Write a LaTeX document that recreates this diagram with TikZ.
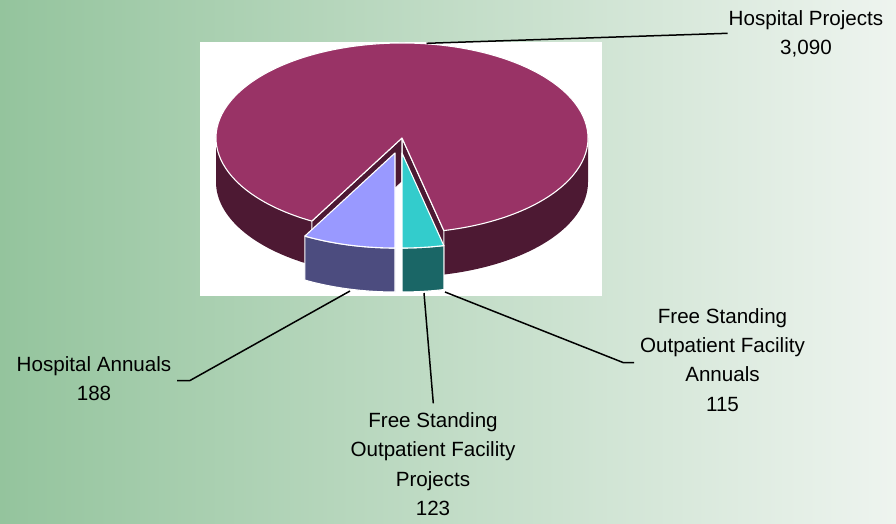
\documentclass[tikz,border=0pt]{standalone}
\usepackage{fontspec}
\setmainfont{Liberation Sans}
\usepackage{xcolor}
\definecolor{bgLeft}{HTML}{94C49D}
\definecolor{bgRight}{HTML}{EEF4EF}
\definecolor{pieTop}{HTML}{993366}
\definecolor{pieSide}{HTML}{4D1933}
\definecolor{lavTop}{HTML}{9999FF}
\definecolor{lavSide}{HTML}{4C4C7F}
\definecolor{tealTop}{HTML}{33CCCC}
\definecolor{tealSide}{HTML}{1A6666}

\begin{document}
\begin{tikzpicture}[x=1pt, y=-1pt,
	slice/.style={draw=white, line width=1.1pt, line join=round},
	conn/.style={black, line width=1.5pt},
	lbl/.style={font=\fontsize{20.6}{29.2}\selectfont, align=center, anchor=base, inner sep=0pt}]

		\newcommand{\cx}{402}
		\newcommand{\cy}{138}
		\newcommand{\rx}{186}
		\newcommand{\ry}{95}
		\newcommand{\dep}{44}
		\newcommand{\angL}{119}
		\newcommand{\angR}{77}
		\useasboundingbox (0,0) rectangle (896,524);
		\shade[left color=bgLeft, right color=bgRight] (0,0) rectangle (896,524);
		\fill[white] (200,42.5) rectangle (602,296);

		\coordinate (C) at (\cx,\cy);
		\coordinate (L) at ({\cx+\rx*cos(\angL)},{\cy+\ry*sin(\angL)});
		\coordinate (R) at ({\cx+\rx*cos(\angR)},{\cy+\ry*sin(\angR)});

	% big slice: sides, cut faces, top
	\fill[pieSide] (\cx+\rx,\cy) arc[start angle=0, end angle=\angR, x radius=\rx, y radius=\ry] -- ++(0,\dep) arc[start angle=\angR, end angle=0, x radius=\rx, y radius=\ry] -- cycle;
	\fill[pieSide] (L) arc[start angle=\angL, end angle=180, x radius=\rx, y radius=\ry] -- ++(0,\dep) arc[start angle=180, end angle=\angL, x radius=\rx, y radius=\ry] -- cycle;
	\draw[slice, fill=pieSide] (C) -- (R) -- ++(0,\dep) -- (\cx,\cy+\dep) -- cycle;
	\draw[slice, fill=pieSide] (C) -- (L) -- ++(0,\dep) -- (\cx,\cy+\dep) -- cycle;
	\draw[slice, fill=pieTop] (C) -- (L) arc[start angle=\angL, end angle=\angR+360, x radius=\rx, y radius=\ry] -- cycle;

	% exploded slices
	\draw[slice, fill=lavSide] (395,153+\ry) arc[start angle=90, end angle=\angL, x radius=\rx, y radius=\ry] -- ++(0,\dep) arc[start angle=\angL, end angle=90, x radius=\rx, y radius=\ry] -- cycle;
	\draw[slice, fill=lavTop] (395,153) -- (395,153+\ry) arc[start angle=90, end angle=\angL, x radius=\rx, y radius=\ry] -- cycle;
	\draw[slice, fill=tealSide] ({402+\rx*cos(\angR)},{153+\ry*sin(\angR)}) arc[start angle=\angR, end angle=90, x radius=\rx, y radius=\ry] -- ++(0,\dep) arc[start angle=90, end angle=\angR, x radius=\rx, y radius=\ry] -- cycle;
	\draw[slice, fill=tealTop] (402,153) -- ({402+\rx*cos(\angR)},{153+\ry*sin(\angR)}) arc[start angle=\angR, end angle=90, x radius=\rx, y radius=\ry] -- cycle;

	% labels (base = last line)
	\node[lbl] (hp) at (806,55) {Hospital Projects\\3,090};
	\node[lbl] (ha) at (94,400.7) {Hospital Annuals\\188};
	\node[lbl] (fsp) at (433,515.3) {Free Standing\\Outpatient Facility\\Projects\\123};
	\node[lbl] (fsa) at (722.5,411) {Free Standing\\Outpatient Facility\\Annuals\\115};

		\coordinate (hpA) at (426.5,43.3);
		\coordinate (hpB) at (727.7,33.3);
		\coordinate (haA) at (350,291);
		\coordinate (haB) at (190,380.5);
		\coordinate (haC) at (177,380.5);
		\coordinate (fspA) at (424,293);
		\coordinate (fspB) at (433.3,403.3);
		\coordinate (fsaA) at (445,292);
		\coordinate (fsaB) at (623,362.5);
		\coordinate (fsaC) at (634,362.5);

	\draw[conn] (hpA) -- (hpB);
	\draw[conn] (haA) -- (haB) -- (haC);
	\draw[conn] (fspA) -- (fspB);
	\draw[conn] (fsaA) -- (fsaB) -- (fsaC);
\end{tikzpicture}
\end{document}
